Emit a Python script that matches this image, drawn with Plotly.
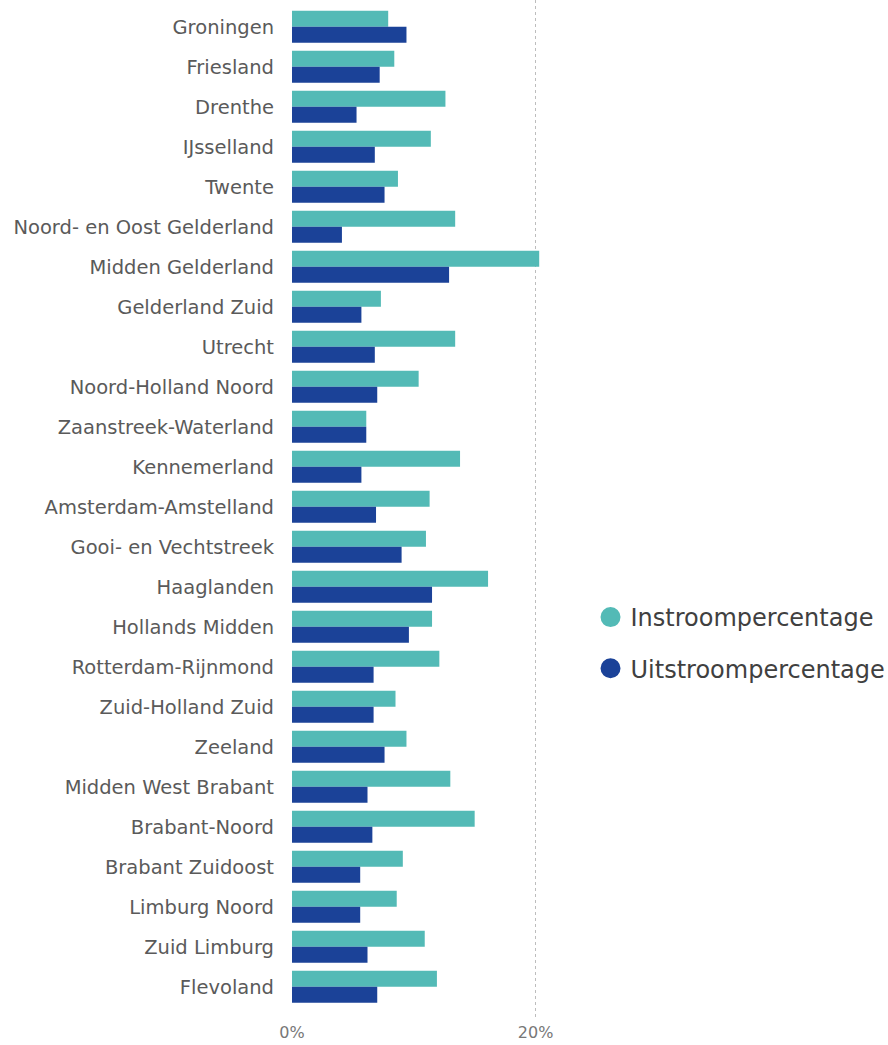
import plotly.graph_objects as go

regions = [
    "Groningen", "Friesland", "Drenthe", "IJsselland", "Twente",
    "Noord- en Oost Gelderland", "Midden Gelderland", "Gelderland Zuid",
    "Utrecht", "Noord-Holland Noord", "Zaanstreek-Waterland", "Kennemerland",
    "Amsterdam-Amstelland", "Gooi- en Vechtstreek", "Haaglanden",
    "Hollands Midden", "Rotterdam-Rijnmond", "Zuid-Holland Zuid", "Zeeland",
    "Midden West Brabant", "Brabant-Noord", "Brabant Zuidoost",
    "Limburg Noord", "Zuid Limburg", "Flevoland",
]

# percentages
instroom = [7.9, 8.4, 12.6, 11.4, 8.7, 13.4, 20.3, 7.3, 13.4, 10.4, 6.1, 13.8,
            11.3, 11.0, 16.1, 11.5, 12.1, 8.5, 9.4, 13.0, 15.0, 9.1, 8.6, 10.9, 11.9]
uitstroom = [9.4, 7.2, 5.3, 6.8, 7.6, 4.1, 12.9, 5.7, 6.8, 7.0, 6.1, 5.7,
             6.9, 9.0, 11.5, 9.6, 6.7, 6.7, 7.6, 6.2, 6.6, 5.6, 5.6, 6.2, 7.0]

teal = "#53BAB6"
navy = "#1B4298"
label_color = "#5A5A5A"

fig = go.Figure()
fig.add_trace(go.Bar(y=regions, x=instroom, orientation="h", name="Instroompercentage",
                     marker=dict(color=teal, line=dict(width=0)), showlegend=False))
fig.add_trace(go.Bar(y=regions, x=uitstroom, orientation="h", name="Uitstroompercentage",
                     marker=dict(color=navy, line=dict(width=0)), showlegend=False))

# circular legend markers
for name, col in [("Instroompercentage", teal), ("Uitstroompercentage", navy)]:
    fig.add_trace(go.Scatter(x=[None], y=[None], mode="markers", name=name,
                             legendgroup=name,
                             marker=dict(color=col, size=16, symbol="circle",
                                         line=dict(color=col, width=4))))

n = len(regions)
fig.update_layout(
    width=888, height=1045,
    margin=dict(l=292, r=322, t=0, b=25, autoexpand=False),
    paper_bgcolor="white", plot_bgcolor="white",
    barmode="group", bargap=0.2, bargroupgap=0,
    font=dict(family="DejaVu Sans", color=label_color),
    showlegend=True,
    legend=dict(xref="container", yref="container", x=0.665, y=1 - 643 / 1045,
                xanchor="left", yanchor="middle",
                font=dict(size=24, color="#404040"),
                itemsizing="trace", tracegroupgap=17, itemwidth=30),
    xaxis=dict(range=[0, 22.5], tickvals=[0, 20], ticktext=["0%", "20%"],
               showgrid=True, gridcolor="#BDBDBD", griddash="dot", gridwidth=1,
               zeroline=False, showline=False, ticks="", ticklabelstandoff=1,
               automargin=False, tickfont=dict(size=16, color="#777777")),
    yaxis=dict(range=[n - 0.5 + 0.33, -0.67], showgrid=False, zeroline=False,
               showline=False, ticks="", ticklabelstandoff=17, automargin=False,
               tickfont=dict(size=19.5, color=label_color)),
)

fig.write_html("out.html")
